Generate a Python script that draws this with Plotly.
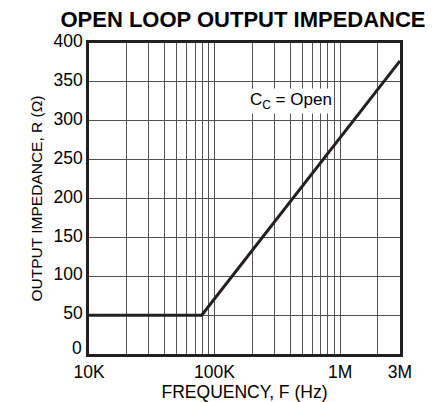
import numpy as np
import plotly.graph_objects as go

# Data
freq_hz = [10e3, 79e3, 3e6]
impedance_ohm = [50, 50, 377]
x_tick_vals = [1e4, 1e5, 1e6, 3e6]
x_tick_text = ["10K", "100K", "1M", "3M"]
y_tick_vals = [0, 50, 100, 150, 200, 250, 300, 350, 400]
y_tick_text = ["", "50", "100", "150", "200", "250", "300", "350", "400"]
y_zero_label = "0"
minor_x = [m * 10**d for d in (4, 5) for m in range(2, 10)] + [2e6]
label_text = "C<sub>C</sub> = Open"
label_pos = (4.1e5, 325)

font = "Liberation Sans, Arial, sans-serif"

# The page body has an 8px default margin; size the figure to fit the window.
W, H = 427, 394

fig = go.Figure()
fig.add_trace(go.Scatter(x=freq_hz, y=impedance_ohm, mode="lines",
                         line=dict(color="#231f20", width=3), showlegend=False))

fig.add_annotation(x=np.log10(label_pos[0]), y=label_pos[1], text=label_text,
                   showarrow=False, font=dict(family=font, size=17, color="black"),
                   bgcolor="white", borderpad=1)
# "0" tick label nudged up so it clears the "10K" label (as in the original)
fig.add_annotation(x=0, xref="paper", y=y_tick_vals[0], yref="y", text=y_zero_label,
                   showarrow=False, xanchor="right", yanchor="middle",
                   xshift=-5, yshift=6, font=dict(family=font, size=17.5, color="black"))

fig.update_layout(
    width=W, height=H,
    margin=dict(l=81, r=35, t=35, b=48, autoexpand=False),
    paper_bgcolor="white", plot_bgcolor="white",
    title=dict(text="<b>OPEN LOOP OUTPUT IMPEDANCE</b>", x=(243 - 8) / W, xanchor="center",
               y=1 - (11 / H), yanchor="middle",
               font=dict(family=font, size=22, color="black")),
    font=dict(family=font, size=17.5, color="black"),
)
fig.update_xaxes(
    type="log", range=[4, np.log10(3e6)], automargin=False,
    tickvals=x_tick_vals, ticktext=x_tick_text, ticks="",
    showgrid=True, gridcolor="#505050", gridwidth=1,
    minor=dict(tickvals=minor_x, showgrid=True, gridcolor="#555555", gridwidth=1, ticks=""),
    showline=True, linecolor="#231f20", linewidth=2.5, mirror=True,
    title=dict(text="FREQUENCY, F (Hz)", standoff=0, font=dict(size=17.5)),
    tickfont=dict(size=17.5), zeroline=False, ticklabelstandoff=0,
)
fig.update_yaxes(
    range=[0, 400], tickvals=y_tick_vals, ticktext=y_tick_text, ticks="", automargin=False,
    showgrid=True, gridcolor="#505050", gridwidth=1,
    showline=True, linecolor="#231f20", linewidth=2.5, mirror=True,
    title=dict(text="OUTPUT IMPEDANCE, R (Ω)", standoff=8, font=dict(size=15.5)),
    tickfont=dict(size=17.5), zeroline=False, ticklabelshift=-2,
)

fig.write_html("out.html")
